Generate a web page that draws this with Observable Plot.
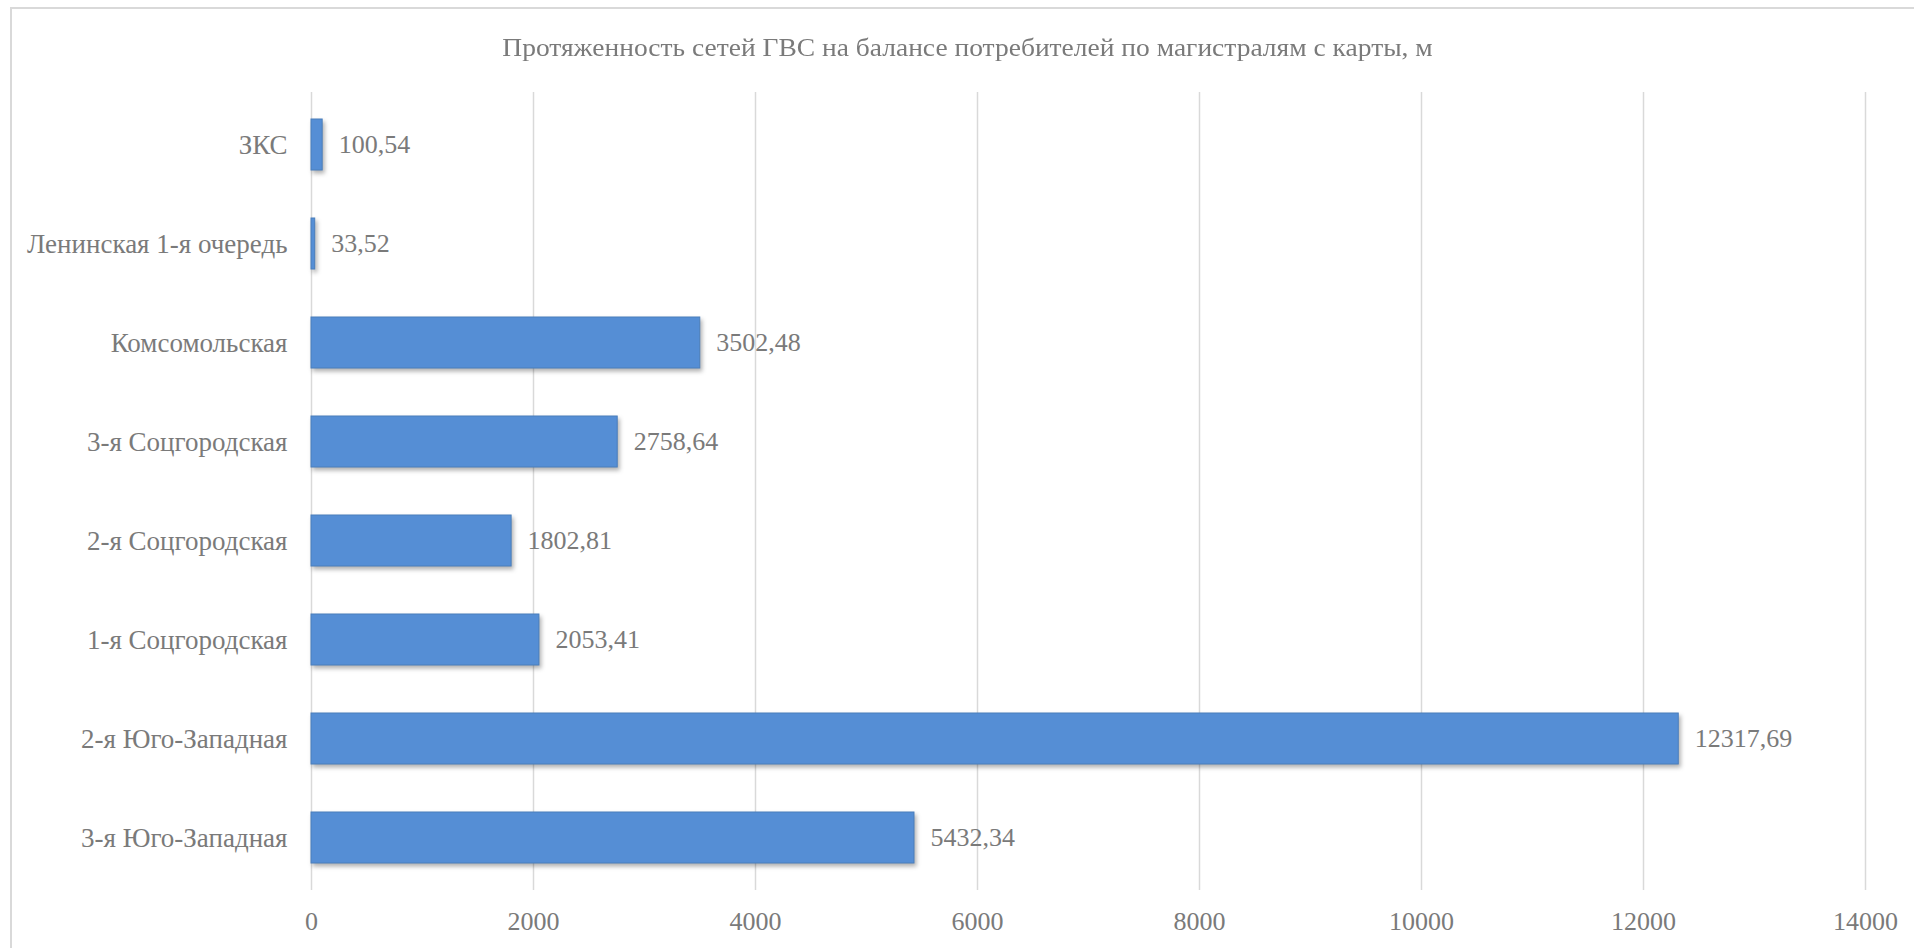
<!DOCTYPE html>
<html>
<head>
<meta charset="utf-8">
<script src="https://cdn.jsdelivr.net/npm/d3@7"></script>
<script src="https://cdn.jsdelivr.net/npm/@observablehq/plot@0.6"></script>
<style>
  html, body { margin: 0; padding: 0; background: #fff; overflow: hidden; font-family: 'Liberation Serif', serif; }
  #wrap { position: relative; width: 1914px; height: 948px; }
  #frame { position: absolute; left: 10px; top: 7px; width: 2000px; height: 1000px; border-left: 2px solid #d9d9d9; border-top: 2px solid #d9d9d9; box-sizing: border-box; }
  #title { position: absolute; left: 0; top: 33px; width: 1935px; text-align: center; font-family: 'Liberation Serif', serif; font-size: 25px; color: #7a7a7a; line-height: 30px; transform: scaleX(1.1); transform-origin: 967px 0; }
  #chart { position: absolute; left: 0; top: 0; }
  #chart svg, #chart svg text { font-family: 'Liberation Serif', serif !important; }
  .bars rect { filter: drop-shadow(2px 3px 2px rgba(0,0,0,0.3)); }
</style>
</head>
<body>
<div id="wrap">
  <div id="frame"></div>
  <div id="title">Протяженность сетей ГВС на балансе потребителей по магистралям с карты, м</div>
  <div id="chart"></div>
</div>
<script>
const categories = [
  "ЗКС",
  "Ленинская 1-я очередь",
  "Комсомольская",
  "3-я Соцгородская",
  "2-я Соцгородская",
  "1-я Соцгородская",
  "2-я Юго-Западная",
  "3-я Юго-Западная"
];
const values = [100.54, 33.52, 3502.48, 2758.64, 1802.81, 2053.41, 12317.69, 5432.34];
const valueLabels = ["100,54", "33,52", "3502,48", "2758,64", "1802,81", "2053,41", "12317,69", "5432,34"];
const xTicks = [0, 2000, 4000, 6000, 8000, 10000, 12000, 14000];

const data = categories.map((c, i) => ({name: c, value: values[i], label: valueLabels[i]}));

const plot = Plot.plot({
  width: 1914,
  height: 948,
  marginLeft: 311,
  marginRight: 49,
  marginTop: 92,
  marginBottom: 58,
  style: {fontFamily: "'Liberation Serif', serif", fontSize: "26px", color: "#7a7a7a", background: "transparent"},
  x: {domain: [0, 14000], ticks: xTicks, tickFormat: d => String(d), label: null},
  y: {domain: categories, paddingInner: 0.48, paddingOuter: 0.24, label: null},
  marks: [
    Plot.gridX(xTicks, {stroke: "#d9d9d9", strokeOpacity: 1, strokeWidth: 1.5}),
    Plot.axisX({ticks: xTicks, tickSize: 0, tickPadding: 21, tickFormat: d => String(d), fill: "#7a7a7a", fontSize: 26, label: null}),
    Plot.axisY({tickSize: 0, tickPadding: 24, fill: "#7a7a7a", fontSize: 27, label: null}),
    Plot.barX(data, {y: "name", x: "value", fill: "#558ed5", stroke: "#4a7ebb", strokeWidth: 1, className: "bars"}),
    Plot.text(data, {y: "name", x: "value", text: "label", dx: 16, textAnchor: "start", fill: "#7a7a7a", fontSize: 26})
  ]
});
plot.setAttribute("font-family", "'Liberation Serif', serif");
document.getElementById("chart").appendChild(plot);
</script>
</body>
</html>
